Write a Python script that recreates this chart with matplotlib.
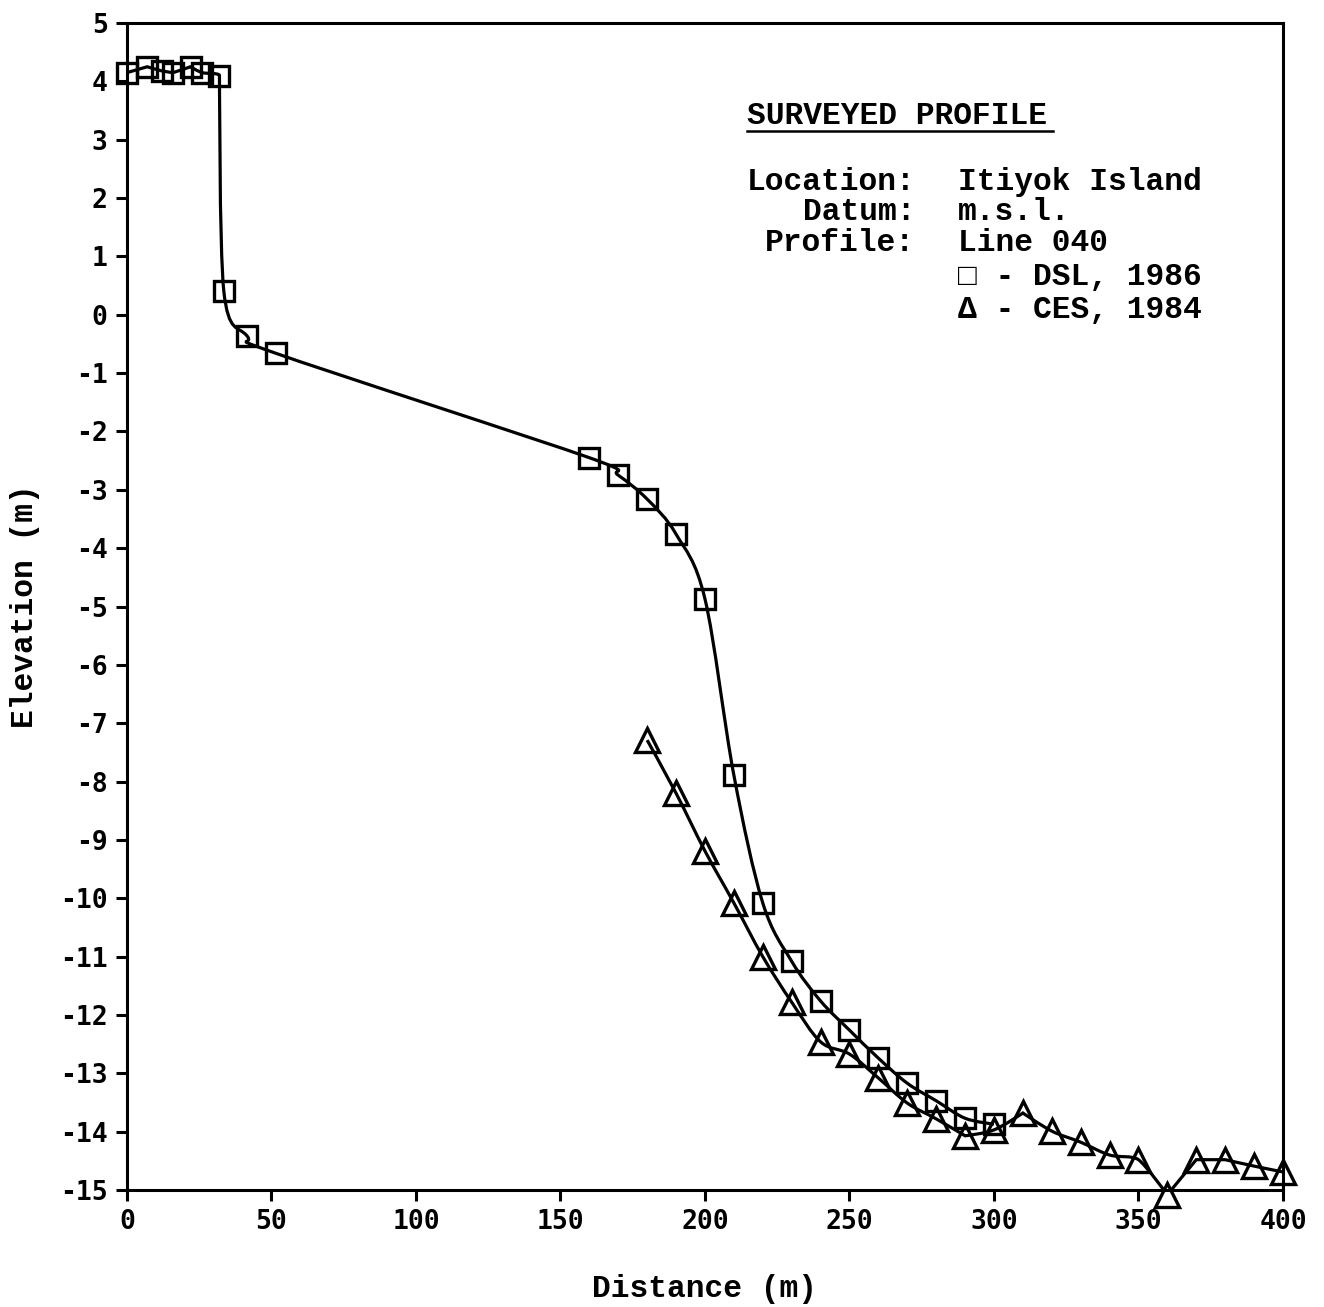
import matplotlib
matplotlib.use("Agg")
import matplotlib.pyplot as plt
from matplotlib.path import Path
from matplotlib.patches import PathPatch
from matplotlib.lines import Line2D
import numpy as np

# DSL 1986 survey (squares)
dsl_x = [0, 7, 12, 16, 22, 26, 32, 33.5, 41.5, 51.5, 160, 170, 180, 190, 200,
         210, 220, 230, 240, 250, 260, 270, 280, 290, 300]
dsl_y = [4.15, 4.25, 4.18, 4.15, 4.25, 4.15, 4.1, 0.41, -0.36, -0.66, -2.45,
         -2.75, -3.16, -3.76, -4.87, -7.89, -10.08, -11.08, -11.76, -12.26,
         -12.74, -13.17, -13.47, -13.77, -13.87]

# CES 1984 survey (triangles)
ces_x = [180, 190, 200, 210, 220, 230, 240, 250, 260, 270, 280, 290, 300, 310,
         320, 330, 340, 350, 360, 370, 380, 390, 400]
ces_y = [-7.29, -8.2, -9.19, -10.08, -11.0, -11.78, -12.46, -12.67, -13.08,
         -13.51, -13.78, -14.07, -13.97, -13.68, -13.99, -14.18, -14.4, -14.48,
         -15.08, -14.48, -14.48, -14.59, -14.69]

x_ticks = [0, 50, 100, 150, 200, 250, 300, 350, 400]
y_ticks = list(range(-15, 6))

MONO = ["Liberation Mono", "DejaVu Sans Mono"]
TICKFONT = "DejaVu Sans Mono"


def smooth_path(xs, ys):
    """Smooth curve through the points as cubic Bezier segments.

    Catmull-Rom tangents, limited so the curve never overshoots in y;
    at local peaks and troughs the curve keeps a sharp corner.
    """
    pts = np.column_stack([xs, ys]).astype(float)
    n = len(pts)
    tin = np.zeros_like(pts)
    tout = np.zeros_like(pts)
    for i in range(n):
        if i == 0 or i == n - 1:
            continue
        dl = pts[i] - pts[i - 1]
        dr = pts[i + 1] - pts[i]
        if dl[1] * dr[1] <= 0:
            continue  # corner
        t = (pts[i + 1] - pts[i - 1]) / 2.0
        lim = 3.0 * min(abs(dl[1]), abs(dr[1]))
        if abs(t[1]) > lim:
            t = t * lim / abs(t[1])
        tin[i] = t
        tout[i] = t
    verts = [pts[0]]
    codes = [Path.MOVETO]
    for i in range(n - 1):
        p1, p2 = pts[i], pts[i + 1]
        c1 = p1 + tout[i] / 3.0
        c2 = p2 - tin[i + 1] / 3.0
        verts += [c1, c2, p2]
        codes += [Path.CURVE4] * 3
    return Path(verts, codes)


fig = plt.figure(figsize=(13.24, 13.07), dpi=100)
ax = fig.add_axes([0.0959, 0.0895, 0.8731, 0.8929])

for xs, ys, mk, ms in [(dsl_x, dsl_y, "s", 15), (ces_x, ces_y, "^", 17)]:
    ax.add_patch(PathPatch(smooth_path(xs, ys), facecolor="none",
                           edgecolor="black", linewidth=2.3, zorder=2))
    ax.plot(xs, ys, linestyle="none", marker=mk, markersize=ms,
            markerfacecolor="none", markeredgecolor="black",
            markeredgewidth=2.4, zorder=3, clip_on=False)

ax.set_xlim(0, 400)
ax.set_ylim(-15, 5)
ax.set_xticks(x_ticks)
ax.set_yticks(y_ticks)
ax.set_xticklabels([str(v) for v in x_ticks], family=TICKFONT,
                   fontweight="bold", fontsize=19)
ax.set_yticklabels([str(v) for v in y_ticks], family=TICKFONT,
                   fontweight="bold", fontsize=19)
ax.tick_params(direction="out", length=8, width=2.2, pad=6)
for sp in ax.spines.values():
    sp.set_linewidth(2.2)

ax.set_xlabel("Distance (m)", family=MONO, fontweight="bold", fontsize=22.5,
              labelpad=28)
ax.set_ylabel("Elevation (m)", family=MONO, fontweight="bold", fontsize=22.5,
              labelpad=14)

# Survey information block
tfs = 22.5
ax.text(0.5363, 0.9203, "SURVEYED PROFILE", transform=ax.transAxes,
        family=MONO, fontweight="bold", fontsize=tfs, ha="left", va="center")
ax.add_line(Line2D([0.5363, 0.801], [0.9075, 0.9075], transform=ax.transAxes,
                   color="black", linewidth=1.8))

labels = ["Location:", "Datum:", "Profile:"]
values = ["Itiyok Island", "m.s.l.", "Line 040", "\u25a1 - DSL, 1986",
          "\u0394 - CES, 1984"]
rows = [0.8637, 0.838, 0.8115, 0.7823, 0.754]
for lab, yy in zip(labels, rows):
    ax.text(0.682, yy, lab, transform=ax.transAxes, family=MONO,
            fontweight="bold", fontsize=tfs, ha="right", va="center")
for val, yy in zip(values, rows):
    ax.text(0.7189, yy, val, transform=ax.transAxes, family=MONO,
            fontweight="bold", fontsize=tfs, ha="left", va="center")

fig.savefig("out.png", dpi=100, facecolor="white")
